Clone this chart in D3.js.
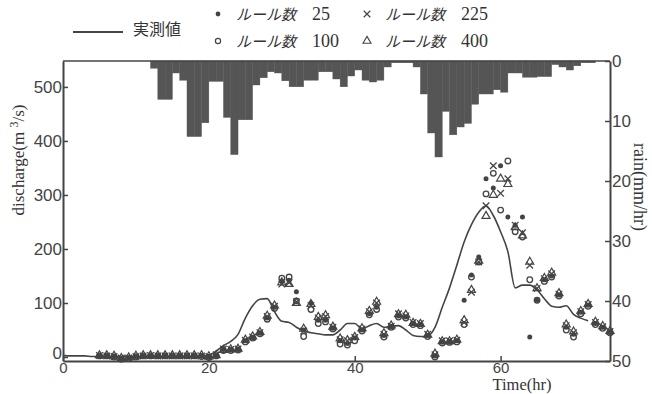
<!DOCTYPE html>
<html>
<head>
<meta charset="utf-8">
<script src="https://cdn.jsdelivr.net/npm/d3@7/dist/d3.min.js"></script>
<style>
  body { margin: 0; background: #fff; }
  .tick text { font-family: "Liberation Sans", sans-serif; font-size: 17px; fill: #444; }
  .xaxis .tick text { font-size: 15px; }
  .axis path, .axis line { stroke: #444; }
  .title { font-family: "Liberation Serif", serif; fill: #333; }
  .jp { font-family: "Noto Sans CJK JP", sans-serif; fill: #333; }
  .num { font-family: "Liberation Serif", serif; fill: #333; }
</style>
</head>
<body>
<div id="chart"></div>
<script>
const ink = '#444';
const barColor = '#555';

// rain (mm/hr), one bar per hour starting at hour 12
const rainStart = 12;
const rain = [1.2, 6.4, 6.4, 2, 3.2, 12.6, 12.6, 10.3, 3.4, 3.4,
  9.4, 15.6, 9.8, 9.8, 4, 2.8, 1.8, 2, 3.3, 4.3,
  4.3, 3.2, 3.2, 1.8, 1.8, 3, 4.3, 2.5, 1.5, 3.2,
  3.5, 3.2, 1, 0.3, 0.3, 0.3, 1, 5.5, 12, 16,
  8.4, 12.3, 11, 10.4, 7.2, 5.5, 5.5, 4.8, 5.2, 2,
  2, 2.7, 2.7, 2.6, 2.6, 0.6, 1, 1.5, 0.8, 0.3, 0.3];

// observed discharge (実測値), hours 0..72
const observed = [3, 2, 2, 2, 1, 1, 1, 1, 1, 1,
  1, 1, 1, 1, 1, 1, 1, 1, 1, 2,
  3, 11, 21, 29, 42, 72, 95, 107, 108, 84,
  66, 64, 55, 48, 45, 43, 41, 41, 50, 62,
  62, 52, 58, 62, 55, 57, 58, 50, 40, 38,
  39, 55, 92, 128, 170, 213, 245, 268, 280, 262,
  232, 195, 128, 133, 133, 124, 108, 94, 92, 95,
  79, 72, 67];

// model results, hours 5..75
const modelStart = 5;
const rules25 = [2, 2, 1, -3, -2, 1, 2, 2, 2, 2, 2, 2, 2, 2, 2, 0,
  3, 14, 13, 14, 30, 36, 44, 72, 92, 140,
  142, 121, 50, 100, 68, 68, 53, 30, 25, 35,
  50, 80, 92, 40, 56, 76, 74, 62, 60, 40,
  2, 28, 28, 30, 105, 152, 185, 330, 313, 354,
  259, 244, 259, 37, 105, 143, 150, 115, 55, 42,
  83, 96, 62, 55, 46];
const rules100 = [2, 2, 0, -4, -3, 0, 2, 2, 2, 2, 2, 2, 2, 2, 1, -1,
  2, 12, 12, 13, 28, 35, 43, 70, 90, 146,
  148, 104, 38, 88, 62, 65, 52, 24, 22, 30,
  48, 78, 88, 37, 55, 74, 72, 60, 58, 38,
  0, 26, 27, 28, 60, 148, 176, 302, 340, 272,
  363, 232, 222, 143, 105, 140, 148, 113, 50, 37,
  80, 94, 60, 53, 45];
const rules225 = [3, 2, 1, -2, -2, 1, 2, 3, 2, 2, 2, 2, 2, 2, 2, 1,
  4, 15, 14, 15, 31, 37, 45, 75, 94, 135,
  138, 102, 48, 95, 72, 75, 55, 32, 30, 36,
  52, 84, 100, 42, 57, 80, 76, 64, 62, 42,
  4, 30, 30, 31, 64, 120, 176, 280, 354, 303,
  330, 244, 230, 170, 127, 145, 154, 116, 58, 45,
  84, 97, 64, 56, 47];
const rules400 = [3, 3, 2, -2, -1, 2, 3, 3, 3, 3, 3, 3, 3, 3, 3, 1,
  3, 13, 14, 15, 32, 38, 46, 76, 95, 138,
  135, 100, 52, 98, 74, 77, 56, 34, 31, 37,
  53, 85, 102, 44, 58, 79, 78, 63, 61, 41,
  6, 29, 29, 32, 68, 124, 178, 261, 300, 330,
  320, 240, 225, 176, 127, 146, 156, 118, 60, 47,
  85, 98, 65, 57, 48];

const xTicks = [0, 20, 40, 60];
const qTicks = [0, 100, 200, 300, 400, 500];
const rTicks = [0, 10, 20, 30, 40, 50];

function drawChart() {
  var margin = {top: 61, right: 42, bottom: 33, left: 63};
  var W = 652, H = 394;
  var width = W - margin.left - margin.right;
  var height = H - margin.top - margin.bottom;

  var x = d3.scaleLinear().domain([0, 75]).range([0, width]);
  var yQ = d3.scaleLinear().domain([-7.4, 548]).range([height, 0]);
  var yR = d3.scaleLinear().domain([0, 50]).range([0, height]);

  var svg = d3.select('#chart').append('svg')
    .attr('width', W).attr('height', H);
  var g = svg.append('g')
    .attr('transform', 'translate(' + margin.left + ',' + margin.top + ')');

  // rain bars hanging from the top
  g.selectAll('rect.rain')
    .data(rain)
    .enter().append('rect')
    .attr('class', 'rain')
    .attr('x', function(d, i) { return x(rainStart + i); })
    .attr('width', function(d, i) { return x(rainStart + i + 1) - x(rainStart + i); })
    .attr('y', yR(0))
    .attr('height', function(d) { return yR(d) - yR(0); })
    .style('fill', barColor)
    .style('stroke', barColor)
    .style('stroke-width', 0.4);

  // observed line
  var line = d3.line()
    .x(function(d, i) { return x(i); })
    .y(function(d) { return yQ(d); })
    .curve(d3.curveMonotoneX);
  g.append('path')
    .datum(observed)
    .attr('d', line)
    .style('fill', 'none')
    .style('stroke', ink)
    .style('stroke-width', 1.6);

  // model points
  function px(d, i) { return x(modelStart + i); }
  g.selectAll('circle.r25').data(rules25).enter().append('circle')
    .attr('cx', px).attr('cy', function(d) { return yQ(d); })
    .attr('r', 2.5).style('fill', ink);
  g.selectAll('circle.r100').data(rules100).enter().append('circle')
    .attr('cx', px).attr('cy', function(d) { return yQ(d); })
    .attr('r', 2.8).style('fill', 'none').style('stroke', ink).style('stroke-width', 1.3);
  var times = d3.symbol().type(d3.symbolTimes).size(30);
  g.selectAll('path.r225').data(rules225).enter().append('path')
    .attr('d', times)
    .attr('transform', function(d, i) { return 'translate(' + px(d, i) + ',' + yQ(d) + ')'; })
    .style('fill', 'none').style('stroke', ink).style('stroke-width', 1.3);
  var tri = d3.symbol().type(d3.symbolTriangle).size(28);
  g.selectAll('path.r400').data(rules400).enter().append('path')
    .attr('d', tri)
    .attr('transform', function(d, i) { return 'translate(' + px(d, i) + ',' + yQ(d) + ')'; })
    .style('fill', 'none').style('stroke', ink).style('stroke-width', 1.2);

  // top frame line
  g.append('line')
    .attr('x1', 0).attr('x2', width).attr('y1', 0).attr('y2', 0)
    .style('stroke', ink).style('stroke-width', 1.5);

  // axes, ticks pointing inwards
  g.append('g').attr('class', 'axis xaxis')
    .attr('transform', 'translate(0,' + height + ')')
    .call(d3.axisBottom(x).tickValues(xTicks).tickSizeInner(-5).tickSizeOuter(0).tickPadding(1))
    .call(function(a) { a.select('.domain').style('stroke-width', 2.2); });
  g.append('g').attr('class', 'axis')
    .call(d3.axisLeft(yQ).tickValues(qTicks).tickSizeInner(-5).tickSizeOuter(0).tickPadding(1))
    .call(function(a) {
      a.select('.domain').style('stroke-width', 2);
      // lift the lowest label a little so it clears the time axis "0"
      a.selectAll('.tick text').filter(function(d) { return d === 0; }).attr('dy', '0.1em');
    });
  g.append('g').attr('class', 'axis')
    .attr('transform', 'translate(' + width + ',0)')
    .call(d3.axisRight(yR).tickValues(rTicks).tickSizeInner(-5).tickSizeOuter(0).tickPadding(2))
    .call(function(a) { a.select('.domain').style('stroke-width', 2); });
  g.selectAll('.axis line').style('stroke-width', 1.5);

  // axis titles
  var yl = svg.append('text').attr('class', 'title')
    .attr('transform', 'translate(24,160) rotate(-90)')
    .attr('text-anchor', 'middle')
    .style('font-size', '17px');
  yl.append('tspan').text('discharge(m ');
  yl.append('tspan').attr('dy', -6).style('font-size', '12px').text('3');
  yl.append('tspan').attr('dy', 6).text('/s)');

  svg.append('text').attr('class', 'title')
    .attr('transform', 'translate(634,187) rotate(90)')
    .attr('text-anchor', 'middle')
    .style('font-size', '18px')
    .text('rain(mm/hr)');

  svg.append('text').attr('class', 'title')
    .attr('x', 522).attr('y', 390)
    .attr('text-anchor', 'middle')
    .style('font-size', '16.5px')
    .text('Time(hr)');

  // handmade legend
  svg.append('line').attr('x1', 73).attr('x2', 123).attr('y1', 32).attr('y2', 32)
    .style('stroke', ink).style('stroke-width', 2.2);
  svg.append('text').attr('class', 'jp').attr('x', 133).attr('y', 35)
    .style('font-size', '16px').text('実測値');

  var items = [
    {mx: 218, my: 14, kind: 'dot', n: '25'},
    {mx: 218, my: 41, kind: 'circle', n: '100'},
    {mx: 367, my: 14, kind: 'times', n: '225'},
    {mx: 367, my: 41, kind: 'tri', n: '400'}
  ];
  items.forEach(function(it) {
    if (it.kind === 'dot') {
      svg.append('circle').attr('cx', it.mx).attr('cy', it.my).attr('r', 2.4).style('fill', ink);
    } else if (it.kind === 'circle') {
      svg.append('circle').attr('cx', it.mx).attr('cy', it.my).attr('r', 2.6)
        .style('fill', 'none').style('stroke', ink).style('stroke-width', 1.2);
    } else if (it.kind === 'times') {
      svg.append('path').attr('d', times).attr('transform', 'translate(' + it.mx + ',' + it.my + ')')
        .style('fill', 'none').style('stroke', ink).style('stroke-width', 1.2);
    } else {
      svg.append('path').attr('d', tri).attr('transform', 'translate(' + it.mx + ',' + it.my + ')')
        .style('fill', 'none').style('stroke', ink).style('stroke-width', 1.1);
    }
    svg.append('text').attr('class', 'jp')
      .attr('x', it.mx + 18).attr('y', it.my + 6)
      .style('font-size', '15px').style('font-style', 'italic')
      .text('ルール数');
    svg.append('text').attr('class', 'num')
      .attr('x', it.mx + 94).attr('y', it.my + 6)
      .style('font-size', '18px')
      .text(it.n);
  });
}

drawChart();
</script>
</body>
</html>
